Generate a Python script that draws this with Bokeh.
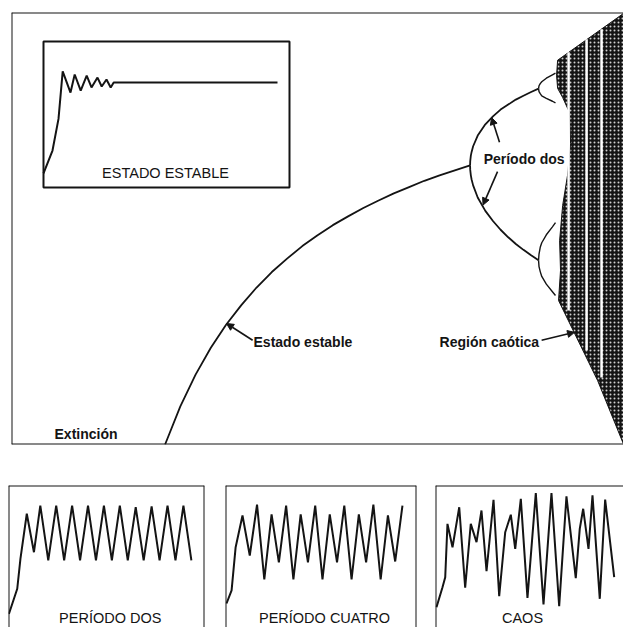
from bokeh.plotting import figure
from bokeh.models import Range1d, Span, Arrow, NormalHead
from bokeh.layouts import column, row
from bokeh.core.properties import value
from bokeh.embed import file_html
from bokeh.resources import INLINE

# ---------------- data ----------------
# steady state branch (growth rate r, population x)
ss_r = [1.0, 1.1, 1.2, 1.3, 1.4, 1.5, 1.6, 1.7, 1.8, 1.9, 2.0, 2.1, 2.2, 2.3, 2.4, 2.5, 2.6, 2.7, 2.8, 2.9, 3.0]
ss_x = [0.0, 0.091, 0.167, 0.231, 0.286, 0.333, 0.375, 0.412, 0.444, 0.474, 0.5, 0.524, 0.545, 0.565,
        0.583, 0.6, 0.615, 0.630, 0.643, 0.655, 0.667]
# period two branches
p2_r = [3.0, 3.001, 3.005, 3.01, 3.02, 3.05, 3.1, 3.15, 3.2, 3.25, 3.3, 3.35, 3.4, 3.449]
p2_up = [0.667, 0.677, 0.690, 0.699, 0.7125, 0.738, 0.765, 0.784, 0.800, 0.812, 0.824, 0.833, 0.842, 0.850]
p2_lo = [0.667, 0.656, 0.643, 0.633, 0.619, 0.590, 0.558, 0.534, 0.513, 0.495, 0.479, 0.465, 0.452, 0.440]
# period four branches
p4_r = [3.449, 3.452, 3.46, 3.47, 3.5, 3.54, 3.56]
p4_a = [0.850, 0.857, 0.862, 0.8665, 0.875, 0.883, 0.887]
p4_b = [0.850, 0.843, 0.838, 0.833, 0.827, 0.820, 0.816]
p4_c = [0.440, 0.455, 0.471, 0.482, 0.501, 0.520, 0.530]
p4_d = [0.440, 0.425, 0.413, 0.4015, 0.383, 0.365, 0.356]
# chaotic region outline
chaos_r = [3.567, 3.574, 4.007, 4.007, 3.836, 3.580, 3.593, 3.587, 3.607, 3.639, 3.659, 3.652, 3.607, 3.574]
chaos_x = [0.882, 0.918, 1.030, 0.0, 0.153, 0.344, 0.416, 0.487, 0.571, 0.643, 0.719, 0.793, 0.829, 0.851]
# periodic windows inside the chaos
win_r = [3.646, 3.764, 3.862]
win_top = [0.937, 0.968, 0.992]
win_bot = [0.320, 0.225, 0.160]

# inset time series: ESTADO ESTABLE
est_t = [0, 1.5, 2.5, 3.2, 4.5, 5.2, 6.2, 7.2, 8.0, 9.0, 9.7, 10.5, 11.2, 11.7, 39.0]
est_v = [0.096, 0.253, 0.47, 0.795, 0.65, 0.774, 0.664, 0.767, 0.685, 0.753, 0.692, 0.740, 0.685, 0.719, 0.719]
# bottom panels
dos_t = [0.05, 1.1, 1.5, 2.3, 3.2] + list(range(4, 24))
dos_v = [0.096, 0.273, 0.484, 0.801, 0.530,
         0.859, 0.472, 0.859, 0.472, 0.859, 0.472, 0.859, 0.472, 0.859, 0.472,
         0.859, 0.472, 0.847, 0.472, 0.852, 0.472, 0.859, 0.472, 0.859, 0.472]
cuatro_t = [-0.2, 0.5, 1.05] + list(range(2, 25))
cuatro_v = [0.169, 0.261, 0.563,
            0.789, 0.507, 0.866, 0.338, 0.796, 0.458, 0.859, 0.338, 0.796, 0.458, 0.859, 0.338,
            0.796, 0.458, 0.859, 0.338, 0.796, 0.458, 0.866, 0.338, 0.789, 0.465, 0.859]
caos_t = [0.14, 1.0, 1.39, 1.71, 2.43, 3.39, 4.24, 5.04, 5.86, 6.57, 7.29, 8.29, 9.1, 9.96, 10.76, 11.39,
          12.19, 13.14, 14.33, 15.43, 16.57, 17.67, 18.71, 20.04, 20.61, 21.1, 21.86, 22.43, 23.47, 24.24, 25.53]
caos_v = [0.143, 0.284, 0.354, 0.730, 0.565, 0.847, 0.280, 0.730, 0.601, 0.824, 0.396, 0.899, 0.220, 0.671,
          0.794, 0.554, 0.906, 0.209, 0.946, 0.162, 0.946, 0.150, 0.923, 0.347, 0.695, 0.836, 0.554, 0.930,
          0.202, 0.901, 0.354]

INK = "#141414"
FONT = value("Liberation Sans")


def bare(fig):
    fig.xgrid.visible = False
    fig.ygrid.visible = False


def border(fig, loc, dim):
    fig.add_layout(Span(location=loc, dimension=dim, line_color=INK, line_width=2))


# ---------------- main bifurcation chart ----------------
XR = Range1d(-0.007, 4.006)
YR = Range1d(0.0, 1.032)
main = figure(width=623, height=484, x_range=XR, y_range=YR, output_backend="svg",
              toolbar_location=None, x_axis_location=None, y_axis_location=None,
              min_border_left=11, min_border_right=0, min_border_top=12, min_border_bottom=40,
              outline_line_color=None, background_fill_color="white", border_fill_color="white")
bare(main)
main.extra_x_ranges = {"it": Range1d(-5.333, 96.667)}
main.extra_y_ranges = {"iv": Range1d(-1.7603, 1.1986)}

main.patch(chaos_r, chaos_x, fill_color=INK, line_color=INK, line_width=1,
           hatch_pattern="dot", hatch_color="white", hatch_scale=4, hatch_weight=1.3, hatch_alpha=0.8)
main.segment(win_r, win_bot, win_r, win_top, line_color="white", line_width=2.5)

main.line(ss_r, ss_x, line_color=INK, line_width=1.8)
main.line(p2_r, p2_up, line_color=INK, line_width=1.8)
main.line(p2_r, p2_lo, line_color=INK, line_width=1.8)
for br in (p4_a, p4_b, p4_c, p4_d):
    main.line(p4_r, br, line_color=INK, line_width=1.4)

border(main, XR.start, "height")
border(main, YR.end, "width")
border(main, YR.start, "width")

# inset
main.quad(left=0, right=41, bottom=0, top=1, x_range_name="it", y_range_name="iv",
          fill_color="white", line_color=INK, line_width=2)
main.line(est_t, est_v, x_range_name="it", y_range_name="iv", line_color=INK, line_width=2)
main.text(x=[20.33], y=[0.099], text=["ESTADO ESTABLE"], x_range_name="it", y_range_name="iv",
          text_align="center", text_baseline="alphabetic", text_font=FONT,
          text_font_size="14.5px", text_color=INK)

# labels
lab = dict(text_baseline="alphabetic", text_font=FONT, text_font_size="14px",
           text_font_style="bold", text_color=INK)
main.text(x=[3.089], y=[0.683], text=["Período dos"], text_align="left", **lab)
main.text(x=[1.58], y=[0.246], text=["Estado estable"], text_align="left", **lab)
main.text(x=[2.80], y=[0.246], text=["Región caótica"], text_align="left", **lab)
main.text(x=[0.275], y=[0.026], text=["Extinción"], text_align="left", **lab)


def arrow(x0, y0, x1, y1):
    main.add_layout(Arrow(end=NormalHead(size=7, fill_color=INK, line_color=INK, line_width=1),
                          x_start=x0, y_start=y0, x_end=x1, y_end=y1,
                          line_color=INK, line_width=1.6))


arrow(3.193, 0.722, 3.141, 0.781)
arrow(3.180, 0.652, 3.085, 0.572)
arrow(1.574, 0.249, 1.403, 0.289)
arrow(3.469, 0.249, 3.685, 0.268)


# ---------------- bottom panels ----------------
def panel(width, ml, mr, xr, ts, vs, label, label_t, right_side):
    f = figure(width=width, height=143, x_range=Range1d(*xr), y_range=Range1d(0.0, 1.0),
               output_backend="svg", toolbar_location=None, x_axis_location=None, y_axis_location=None,
               min_border_left=ml, min_border_right=mr, min_border_top=1, min_border_bottom=0,
               outline_line_color=None, background_fill_color="white", border_fill_color="white")
    bare(f)
    f.line(ts, vs, line_color=INK, line_width=2)
    f.text(x=[label_t], y=[0.067], text=[label], text_align="center", text_baseline="alphabetic",
           text_font=FONT, text_font_size="14.5px", text_color=INK)
    border(f, xr[0], "height")
    border(f, 1.0, "width")
    if right_side:
        border(f, xr[1], "height")
    return f


p1 = panel(216, 8, 12, (0.0, 24.65), dos_t, dos_v, "PERÍODO DOS", 12.8, True)
p2 = panel(210, 9, 10, (-0.338, 25.93), cuatro_t, cuatro_v, "PERÍODO CUATRO", 13.28, True)
p3 = panel(197, 9, 0, (0.0, 26.86), caos_t, caos_v, "CAOS", 12.43, False)

p = column(main, row(p1, p2, p3, spacing=0), spacing=0)

open("out.html", "w").write(file_html(p, INLINE))
